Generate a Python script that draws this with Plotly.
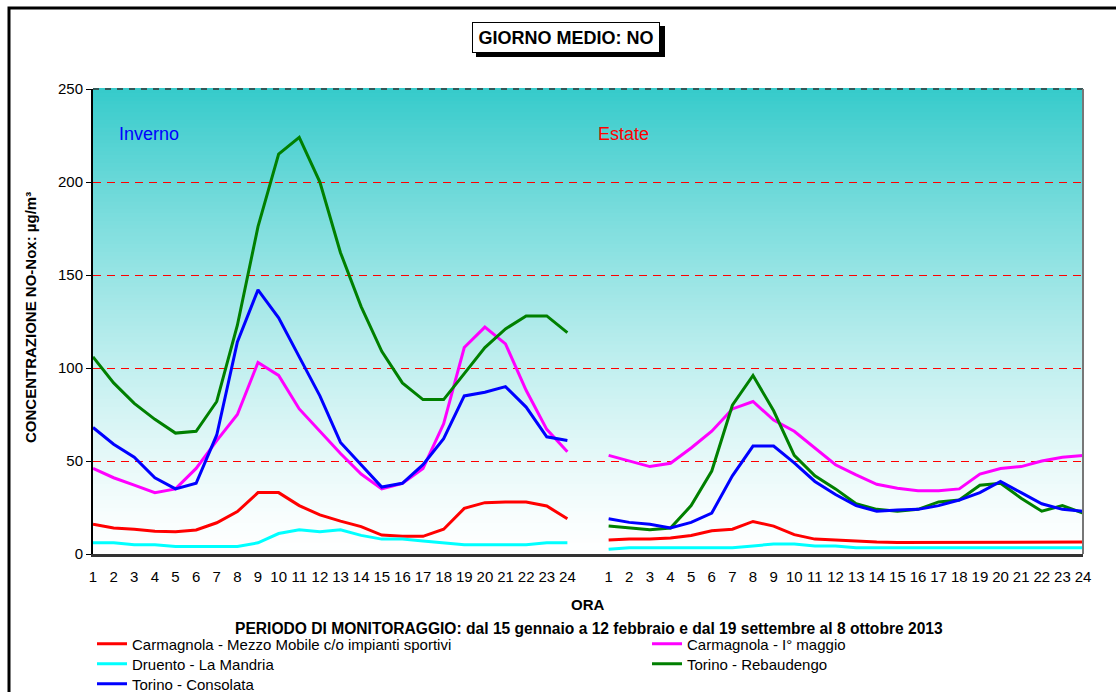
import plotly.graph_objects as go

# ---------------- data ----------------
hour_labels = ["1", "2", "3", "4", "5", "6", "7", "8", "9", "10", "11", "12",
               "13", "14", "15", "16", "17", "18", "19", "20", "21", "22", "23", "24"]

series_names = [
    "Carmagnola - Mezzo Mobile c/o impianti sportivi",
    "Carmagnola - I° maggio",
    "Druento - La Mandria",
    "Torino - Rebaudengo",
    "Torino - Consolata",
]
series_colors = ["#FF0000", "#FF00FF", "#00FFFF", "#008000", "#0000FF"]

inverno_mezzo_mobile = [16, 14, 13.3, 12.2, 12, 12.9, 16.8, 22.8, 33, 33, 26, 21,
                        17.7, 14.7, 10.2, 9.5, 9.5, 13.3, 24.5, 27.6, 28, 28, 25.8, 19]
inverno_maggio = [46, 41, 37, 33, 35, 46, 61, 75, 103, 96, 78, 66,
                  54, 43, 35, 38, 46, 70, 111, 122, 113, 88, 67, 55]
inverno_druento = [6, 6, 5, 5, 4, 4, 4, 4, 6, 11, 13, 12,
                   13, 10, 8, 8, 7, 6, 5, 5, 5, 5, 6, 6]
inverno_rebaudengo = [106, 92, 81, 72.4, 65, 66, 82, 123, 176, 215, 224, 200,
                      162, 133, 109, 92, 83, 83, 97, 111, 121, 128, 128, 119]
inverno_consolata = [68, 59, 52, 41, 35, 38, 64, 114, 142, 127, 106, 85,
                     60, 48, 36, 38, 48, 62, 85, 87, 90, 79, 63, 61]

estate_mezzo_mobile = [7.5, 8, 8, 8.6, 10, 12.5, 13.3, 17.5, 15, 10.4, 8, 7.5,
                       6.6, 6.4, 6.2, 6.2, 6, 6, 6, 6, 6.2, 6.2, 6.4, 6.4]
estate_maggio = [53, 50, 47, 48.8, 57, 66, 78, 82, 72, 66, 57, 48,
                 42.5, 37.5, 35.3, 34, 34, 35, 43, 46, 47, 50, 52, 53]
estate_druento = [2.5, 3.4, 3.4, 3.4, 3.4, 3.4, 3.4, 4.3, 5.4, 5.4, 4.3, 4.3,
                  3.4, 3.4, 3.4, 3.4, 3.4, 3.4, 3.4, 3.4, 3.4, 3.4, 3.4, 3.4]
estate_rebaudengo = [15, 14, 13, 14, 26, 44.6, 80, 96, 77, 53, 42, 35,
                     27, 24, 23, 24, 28, 29, 37, 38, 30, 23, 26, 22]
estate_consolata = [19, 17, 16, 14, 17, 22, 42, 58, 58, 49, 39, 32,
                    26, 23, 23.7, 24, 26, 29, 33, 39, 33, 27, 24, 23]

inverno = [inverno_mezzo_mobile, inverno_maggio, inverno_druento, inverno_rebaudengo, inverno_consolata]
estate = [estate_mezzo_mobile, estate_maggio, estate_druento, estate_rebaudengo, estate_consolata]

# category axis: winter hours, an empty gap slot, summer hours
cat_inv = ["I" + h for h in hour_labels]
cat_est = ["E" + h for h in hour_labels]
categories = cat_inv + ["gap"] + cat_est
tick_text = hour_labels + [""] + hour_labels

FONT = "Liberation Sans, Arial, sans-serif"

W, H = 1116, 692
L, R, T, B = 93, 33, 89, 138
PW, PH = W - L - R, H - T - B
def px(x):
    return (x - L) / PW
def py(y):
    return (H - B - y) / PH

# legend slot per series: (left px, row center px)
legend_slots = [(92, 644), (647, 644), (92, 664), (647, 664), (92, 684)]
legend_ids = ["legend", "legend2", "legend3", "legend4", "legend5"]

fig = go.Figure()
for name, color, yi, ye, lg in zip(series_names, series_colors, inverno, estate, legend_ids):
    fig.add_trace(go.Scatter(x=cat_inv + ["gap"] + cat_est, y=yi + [None] + ye,
                             mode="lines", name=name, legend=lg,
                             line=dict(color=color, width=3), connectgaps=False))

# ---- gradient background (plot area) ----
shapes = []
N = 120
top = (54, 203, 203)
for k in range(N):
    t = (k + 0.5) / N
    m = t ** 1.3
    c = tuple(int(round(255 + (tc - 255) * m)) for tc in top)
    shapes.append(dict(type="rect", xref="paper", yref="paper", x0=0, x1=1,
                       y0=k / N, y1=(k + 1) / N + 0.002, line=dict(width=0),
                       fillcolor="rgb(%d,%d,%d)" % c, layer="below"))

shapes.append(dict(type="line", xref="paper", yref="paper", x0=0, x1=1, y0=1, y1=1,
                   line=dict(color="#333333", width=1.5, dash="6px,6px")))
shapes.append(dict(type="line", xref="paper", yref="paper", x0=1, x1=1, y0=0, y1=1,
                   line=dict(color="#777777", width=2)))
# title shadow
shapes.append(dict(type="rect", xref="paper", yref="paper",
                   x0=px(476), x1=px(665), y0=py(57), y1=py(26),
                   fillcolor="black", line=dict(width=0)))
# outer frame
shapes.append(dict(type="rect", xref="paper", yref="paper",
                   x0=px(9), x1=px(1140), y0=py(720), y1=py(8),
                   line=dict(color="black", width=3), fillcolor="rgba(0,0,0,0)"))

annotations = [
    dict(text="<b>GIORNO MEDIO: NO</b>", xref="paper", yref="paper",
         x=px(566), y=py(37), showarrow=False, xanchor="center", yanchor="middle",
         font=dict(family=FONT, size=18, color="black"),
         bgcolor="white", bordercolor="black", borderwidth=1, borderpad=1,
         width=184, height=27),
    dict(text="Inverno", xref="paper", yref="paper", x=px(149), y=py(134),
         xanchor="center", yanchor="middle",
         showarrow=False, font=dict(family=FONT, size=18, color="#0000FF")),
    dict(text="Estate", xref="paper", yref="paper", x=px(623), y=py(134),
         xanchor="center", yanchor="middle",
         showarrow=False, font=dict(family=FONT, size=18, color="#FF0000")),
    dict(text="<b>CONCENTRAZIONE NO-Nox: µg/m³</b>", xref="paper", yref="paper",
         x=px(30), y=py(318), textangle=-90, showarrow=False,
         xanchor="center", yanchor="middle",
         font=dict(family=FONT, size=15, color="black")),
    dict(text="<b>ORA</b>", xref="paper", yref="paper", x=px(588), y=py(604),
         xanchor="center", yanchor="middle",
         showarrow=False, font=dict(family=FONT, size=15, color="black")),
    dict(text="<b>PERIODO DI MONITORAGGIO: dal 15 gennaio a 12 febbraio e dal 19 settembre al 8 ottobre 2013</b>",
         xref="paper", yref="paper", x=px(589), y=py(628),
         xanchor="center", yanchor="middle",
         showarrow=False, font=dict(family=FONT, size=15.6, color="black")),
]

legends = {}
for lid, (lx, ly) in zip(legend_ids, legend_slots):
    legends[lid] = dict(x=px(lx), y=py(ly), xanchor="left", yanchor="middle",
                        bgcolor="rgba(0,0,0,0)", font=dict(family=FONT, size=15),
                        tracegroupgap=0, itemwidth=30)

fig.update_layout(
    width=W, height=H,
    margin=dict(l=L, r=R, t=T, b=B, autoexpand=False),
    paper_bgcolor="white",
    plot_bgcolor="rgba(0,0,0,0)",
    font=dict(family=FONT, size=15, color="black"),
    shapes=shapes,
    annotations=annotations,
    showlegend=True,
    **legends,
    xaxis=dict(type="category", categoryorder="array", categoryarray=categories,
               range=[0, 48], tickvals=categories, ticktext=tick_text,
               ticks="outside", ticklen=7, tickcolor="rgba(0,0,0,0)",
               showgrid=False, showline=True, linecolor="#333333", linewidth=2.5,
               zeroline=False, tickfont=dict(size=15)),
    yaxis=dict(range=[0, 250], tickvals=[0, 50, 100, 150, 200, 250],
               ticks="outside", ticklen=5, tickcolor="black", tickwidth=1,
               showgrid=True, gridcolor="#FF0000", gridwidth=1, griddash="8px,6px",
               showline=True, linecolor="black", linewidth=2,
               zeroline=False, tickfont=dict(size=15)),
)

fig.write_html("out.html", config={"displayModeBar": False},
               post_script="document.body.style.margin='0';document.documentElement.style.overflow='hidden';")
